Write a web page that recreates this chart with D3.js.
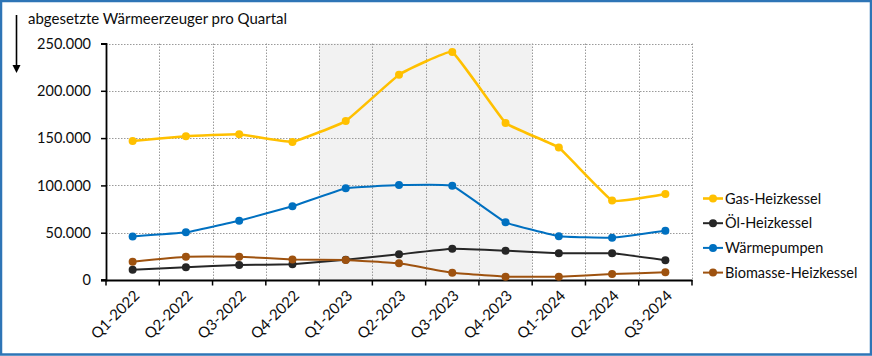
<!DOCTYPE html>
<html><head><meta charset="utf-8">
<script src="https://cdn.jsdelivr.net/npm/d3@7"></script>
<style>
body{margin:0;background:#fff}
svg{display:block}
text{font-family:Lato, "Open Sans", sans-serif;fill:#0d0d0d}
</style>
</head><body>
<svg id="c" width="872" height="356"></svg>
<script>
const categories = ["Q1-2022","Q2-2022","Q3-2022","Q4-2022","Q1-2023","Q2-2023","Q3-2023","Q4-2023","Q1-2024","Q2-2024","Q3-2024"];
const gas        = [147000,152000,154000,146000,168000,217000,241000,166000,140000,84000,91000];
const oel        = [10900,13400,15900,16600,21500,27100,33000,31000,28300,28200,21000];
const waerme     = [46000,50400,62700,77900,97000,100300,99600,61000,46200,44700,52100];
const biomasse   = [19400,24600,24600,21800,21200,17600,7700,3500,3500,6300,8100];
const seriesNames = ["Gas-Heizkessel","Öl-Heizkessel","Wärmepumpen","Biomasse-Heizkessel"];
const seriesColors = ["#FFC000","#262626","#0070C0","#9E520F"];
const yTicks = [0,50000,100000,150000,200000,250000];
const shadedCats = ["Q1-2023","Q4-2023"];
const title = "abgesetzte Wärmeerzeuger pro Quartal";

(function(){
const svg = d3.select("#c");
const W = 872, H = 356;
const pL = 106, pR = 692, pT = 43.5, pB = 280;

svg.append("rect").attr("x",1).attr("y",1).attr("width",W-2).attr("height",H-2.5)
  .attr("fill","#fff").attr("stroke","#2E75B6").attr("stroke-width",2.5);

const x = d3.scaleBand().domain(categories).range([pL,pR]).padding(0);
const y = d3.scaleLinear().domain([0,250000]).range([pB,pT]);

svg.append("rect")
  .attr("x", x(shadedCats[0])).attr("y", y(250000))
  .attr("width", x(shadedCats[1]) + x.bandwidth() - x(shadedCats[0]))
  .attr("height", y(0)-y(250000)).attr("fill","#F2F2F2");

const grid = svg.append("g").attr("stroke","#9a9a9a").attr("stroke-width",1).attr("stroke-dasharray","1.5,1.5");
yTicks.filter(d=>d>0).forEach(t=>{
  grid.append("line").attr("x1",pL).attr("x2",pR).attr("y1",Math.round(y(t))+0.5).attr("y2",Math.round(y(t))+0.5);
});
categories.forEach(c=>{
  const xx = Math.round(x(c)+x.bandwidth())+0.5;
  grid.append("line").attr("x1",xx).attr("x2",xx).attr("y1",y(250000)).attr("y2",y(0));
});

const fmt = d => d===0 ? "0" : d3.format(",")(d).replace(/,/g,".");
const yAxis = svg.append("g").attr("transform",`translate(${pL},0)`)
  .call(d3.axisLeft(y).tickValues(yTicks).tickFormat(fmt).tickSize(5).tickPadding(10));
yAxis.select(".domain").attr("stroke","#000").attr("stroke-width",1.8);
yAxis.selectAll(".tick line").attr("stroke","#000").attr("stroke-width",1.5);
yAxis.selectAll(".tick text").style("font-size","14.5px").attr("fill","#0d0d0d").style("font-family","Lato, sans-serif");

const xAxis = svg.append("g").attr("transform",`translate(0,${pB})`)
  .call(d3.axisBottom(x).tickSize(0).tickFormat(""));
xAxis.select(".domain").attr("stroke","#000").attr("stroke-width",1.8);
const tickPos = [pL, ...categories.map(c=>x(c)+x.bandwidth())];
tickPos.forEach(p=>{
  svg.append("line").attr("x1",p).attr("x2",p).attr("y1",pB).attr("y2",pB+5.5)
    .attr("stroke","#000").attr("stroke-width",1.5);
});
svg.append("line").attr("x1",pL-5).attr("x2",pL).attr("y1",pB).attr("y2",pB).attr("stroke","#000").attr("stroke-width",1.8);
categories.forEach(c=>{
  const cx = x(c)+x.bandwidth()/2;
  svg.append("text").attr("transform",`translate(${cx+4},${pB+13}) rotate(-45)`)
    .attr("text-anchor","end").attr("dy","0.35em").style("font-size","15px").text(c);
});

const all = [gas, oel, waerme, biomasse];
const line = d3.line().x((d,i)=>x(categories[i])+x.bandwidth()/2).y(d=>y(d)).curve(d3.curveCardinal.tension(0.75));
all.forEach((vals,si)=>{
  svg.append("path").datum(vals).attr("d",line).attr("fill","none")
    .attr("stroke",seriesColors[si]).attr("stroke-width", si===0?2.6:2);
  svg.append("g").selectAll("circle").data(vals).join("circle")
    .attr("cx",(d,i)=>x(categories[i])+x.bandwidth()/2).attr("cy",d=>y(d))
    .attr("r",4).attr("fill",seriesColors[si]);
});

const lg = svg.append("g");
seriesNames.forEach((n,i)=>{
  const yy = 198.5 + i*24.7;
  lg.append("line").attr("x1",703).attr("x2",723).attr("y1",yy).attr("y2",yy)
    .attr("stroke",seriesColors[i]).attr("stroke-width", i===0?2.6:2);
  lg.append("circle").attr("cx",713).attr("cy",yy).attr("r",4).attr("fill",seriesColors[i]);
  lg.append("text").attr("x",725).attr("y",yy).attr("dy","0.35em").style("font-size","14.5px").text(n);
});

svg.append("text").attr("x",28).attr("y",24).style("font-size","15px").text(title);
svg.append("line").attr("x1",16.5).attr("x2",16.5).attr("y1",15).attr("y2",67).attr("stroke","#000").attr("stroke-width",1.6);
svg.append("path").attr("d","M12.5,65 L20.5,65 L16.5,73 Z").attr("fill","#000");
})();
</script>
</body></html>
